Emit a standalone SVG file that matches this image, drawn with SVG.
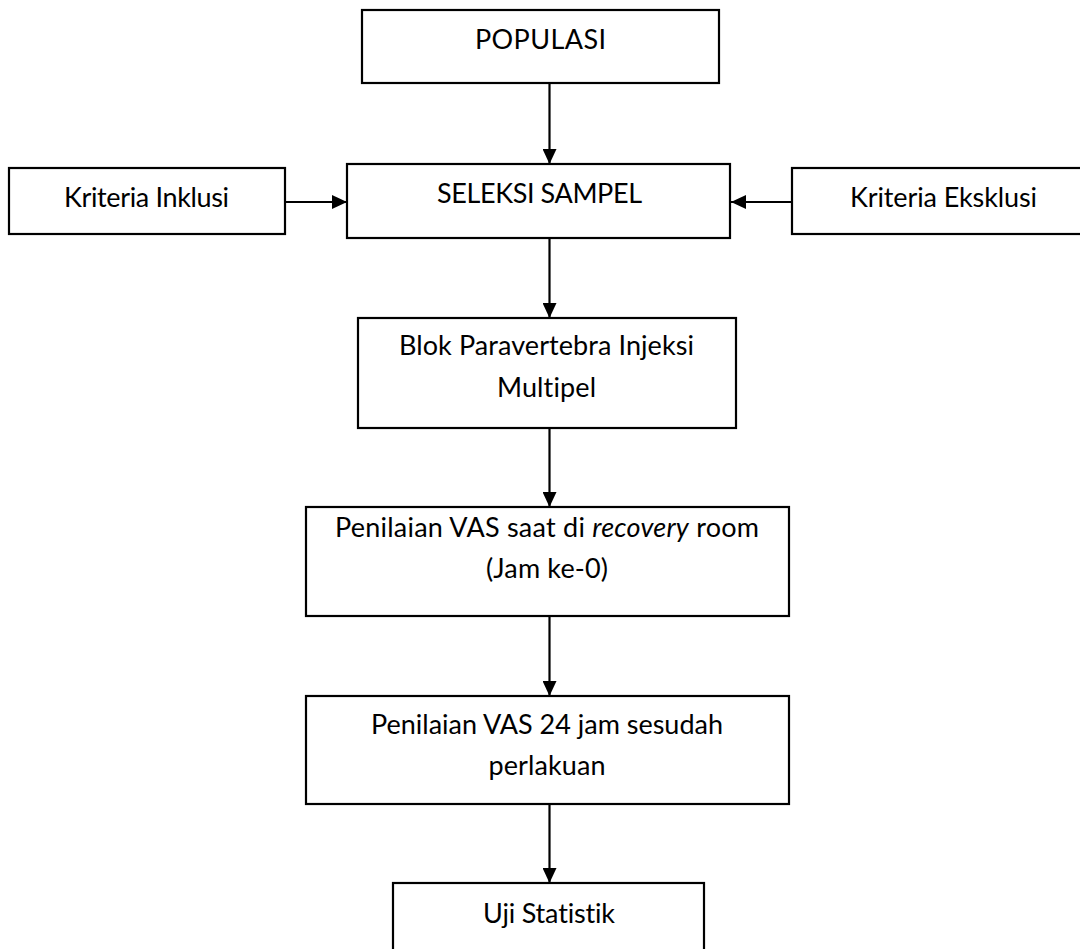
<svg xmlns="http://www.w3.org/2000/svg" width="1080" height="949" viewBox="0 0 1080 949">
<style>
.box{fill:#fff;stroke:#000;stroke-width:2.2}
.t{font-family:Lato,"Open Sans","Liberation Sans",sans-serif;font-size:27px;fill:#000;text-anchor:middle;font-variant-ligatures:none}
.c{stroke:#000;stroke-width:2.2;fill:none;marker-end:url(#ah)}
</style>
<defs>
<marker id="ah" markerUnits="userSpaceOnUse" markerWidth="15" markerHeight="14" refX="15" refY="7" orient="auto">
<path d="M0,0 L15,7 L0,14 z" fill="#000"/>
</marker>
</defs>
<rect width="1080" height="949" fill="#fff"/>
<g id="connectors">
<line class="c" x1="549.5" y1="83" x2="549.5" y2="164"/>
<line class="c" x1="286" y1="202" x2="347" y2="202"/>
<line class="c" x1="792" y1="202" x2="731" y2="202"/>
<line class="c" x1="549.5" y1="238" x2="549.5" y2="318"/>
<line class="c" x1="549.5" y1="428" x2="549.5" y2="507"/>
<line class="c" x1="549.5" y1="616" x2="549.5" y2="696"/>
<line class="c" x1="549.5" y1="804" x2="549.5" y2="883"/>
</g>
<g id="populasi">
<rect class="box" x="362" y="10" width="357" height="73"/>
<text class="t" x="540.5" y="49" textLength="131">POPULASI</text>
</g>
<g id="seleksi">
<rect class="box" x="347" y="164" width="383" height="74"/>
<text class="t" x="539.5" y="203" textLength="205">SELEKSI SAMPEL</text>
</g>
<g id="inklusi">
<rect class="box" x="9" y="168" width="276" height="66"/>
<text class="t" x="146.5" y="207" textLength="165">Kriteria Inklusi</text>
</g>
<g id="eksklusi">
<rect class="box" x="792" y="168" width="300" height="66"/>
<text class="t" x="943.5" y="207" textLength="187">Kriteria Eksklusi</text>
</g>
<g id="blok">
<rect class="box" x="358" y="318" width="378" height="110"/>
<text class="t" x="546.5" y="355" textLength="295">Blok Paravertebra Injeksi</text>
<text class="t" x="546.5" y="397" textLength="99">Multipel</text>
</g>
<g id="vas0">
<rect class="box" x="306" y="507" width="483" height="109"/>
<text class="t" x="547" y="537" textLength="424">Penilaian VAS saat di <tspan font-style="italic">recovery</tspan> room</text>
<text class="t" x="547" y="578" textLength="122">(Jam ke-0)</text>
</g>
<g id="vas24">
<rect class="box" x="306" y="696" width="483" height="108"/>
<text class="t" x="547" y="734" textLength="352">Penilaian VAS 24 jam sesudah</text>
<text class="t" x="547" y="775" textLength="117">perlakuan</text>
</g>
<g id="uji">
<rect class="box" x="393" y="883" width="311" height="80"/>
<text class="t" x="549" y="923" textLength="132">Uji Statistik</text>
</g>
</svg>
